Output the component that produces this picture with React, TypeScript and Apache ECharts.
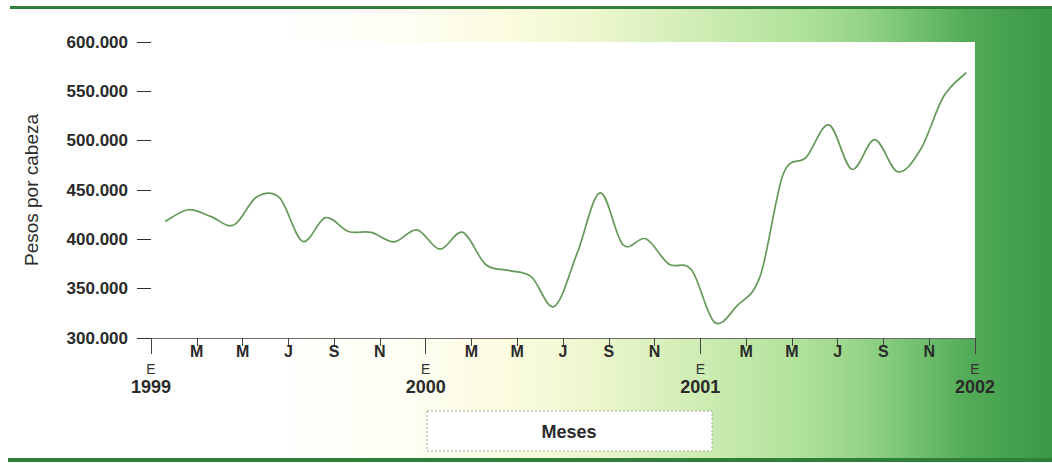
import React, { useEffect, useRef } from "react";
import * as echarts from "echarts";

// Monthly average price per head (pesos), Jan 1999 .. Dec 2001
const monthIndex = [
  0, 1, 2, 3, 4, 5, 6, 7, 8, 9, 10, 11,
  12, 13, 14, 15, 16, 17, 18, 19, 20, 21, 22, 23,
  24, 25, 26, 27, 28, 29, 30, 31, 32, 33, 34, 35,
];
const pesosPorCabeza = [
  418000, 430000, 423000, 414500, 443000, 442000, 398000, 422000, 408000, 407000, 397500, 409500,
  390000, 407000, 374500, 368500, 362000, 332000, 386000, 447000, 394500, 400500, 375000, 369000,
  316000, 333000, 363000, 466000, 483000, 516000, 471000, 501000, 468500, 491000, 544500, 569000,
];
const monthTickLetters = ["E", "M", "M", "J", "S", "N"];
const yearLabels = ["1999", "2000", "2001", "2002"];
const yTicks = { min: 300000, max: 600000, step: 50000 };
const pointOffset = 0.62; // points sit inside each month

const FONT = "'Liberation Sans', Arial, Helvetica, sans-serif";

function fmtThousands(v: number): string {
  const s = Math.round(v).toString();
  return s.replace(/\B(?=(\d{3})+(?!\d))/g, ".");
}

// Catmull-Rom spline through pixel points -> SVG path data
function splinePath(pts: number[][]): string {
  const n = pts.length;
  if (n === 0) return "";
  let d = "M" + pts[0][0] + "," + pts[0][1];
  for (let i = 0; i < n - 1; i++) {
    const p0 = pts[Math.max(0, i - 1)];
    const p1 = pts[i];
    const p2 = pts[i + 1];
    const p3 = pts[Math.min(n - 1, i + 2)];
    const c1x = p1[0] + (p2[0] - p0[0]) / 6;
    const c1y = p1[1] + (p2[1] - p0[1]) / 6;
    const c2x = p2[0] - (p3[0] - p1[0]) / 6;
    const c2y = p2[1] - (p3[1] - p1[1]) / 6;
    d += " C" + c1x + "," + c1y + " " + c2x + "," + c2y + " " + p2[0] + "," + p2[1];
  }
  return d;
}

export default function App() {
  const ref = useRef<HTMLDivElement>(null);

  useEffect(() => {
    if (!ref.current) return;
    const chart = echarts.init(ref.current, null, { renderer: "svg" });

    const seriesData = monthIndex.map((m, i) => [m + pointOffset, pesosPorCabeza[i]]);

    const bgGradient = new echarts.graphic.LinearGradient(0, 0, 1, 0, [
      { offset: 0, color: "#ffffff" },
      { offset: 0.25, color: "#ffffff" },
      { offset: 0.38, color: "#fefef4" },
      { offset: 0.48, color: "#fbfbe0" },
      { offset: 0.56, color: "#eef7cf" },
      { offset: 0.67, color: "#cdecb2" },
      { offset: 0.76, color: "#b0e29a" },
      { offset: 0.82, color: "#95d487" },
      { offset: 0.88, color: "#6cbd6a" },
      { offset: 0.92, color: "#52ab57" },
      { offset: 1, color: "#3a9846" },
    ]);

    const option: any = {
      animation: false,
      grid: {
        left: 151,
        right: 77,
        top: 42,
        bottom: 125,
        show: true,
        backgroundColor: "#ffffff",
        borderWidth: 0,
        z: 1,
      },
      graphic: [
        {
          type: "rect",
          z: -100,
          shape: { x: 0, y: 9, width: 1052, height: 451 },
          style: { fill: bgGradient },
          silent: true,
        },
        {
          type: "rect",
          z: -90,
          shape: { x: 10, y: 6, width: 1042, height: 3 },
          style: { fill: "#2f7f3a" },
          silent: true,
        },
        {
          type: "rect",
          z: -90,
          shape: { x: 8, y: 458, width: 1044, height: 4 },
          style: { fill: "#2f7f3a" },
          silent: true,
        },
        {
          type: "rect",
          z: 5,
          shape: { x: 427, y: 411, width: 285, height: 40 },
          style: { fill: "#ffffff", stroke: "#a8a8a0", lineWidth: 1, lineDash: [2, 2] },
          silent: true,
        },
        {
          type: "text",
          z: 6,
          x: 569,
          y: 432,
          style: {
            text: "Meses",
            font: "bold 18px " + FONT,
            fill: "#2a2a2a",
            align: "center",
            verticalAlign: "middle",
          },
          silent: true,
        },
      ],
      xAxis: [
        {
          type: "value",
          position: "bottom",
          min: 0,
          max: 36,
          interval: 2,
          axisLine: { show: true, lineStyle: { color: "#6a6a6a", width: 1 } },
          axisTick: { show: true, length: 8, lineStyle: { color: "#444", width: 1 } },
          splitLine: { show: false },
          axisLabel: {
            show: true,
            margin: 5,
            showMinLabel: true,
            showMaxLabel: true,
            fontFamily: FONT,
            fontWeight: "bold",
            fontSize: 16,
            color: "#2a2a2a",
            formatter: (v: number) => {
              const k = Math.round(v / 2) % 6;
              return k === 0 ? "" : monthTickLetters[k];
            },
          },
        },
        {
          type: "value",
          position: "top",
          min: 0,
          max: 36,
          axisLine: { show: true, lineStyle: { color: "#6a6a6a", width: 1 } },
          axisTick: { show: false },
          splitLine: { show: false },
          axisLabel: { show: false },
        },
        {
          type: "value",
          position: "bottom",
          min: 0,
          max: 36,
          interval: 12,
          axisLine: { show: false },
          axisTick: { show: true, length: 16, lineStyle: { color: "#444", width: 1 } },
          splitLine: { show: false },
          axisLabel: {
            show: true,
            margin: 22,
            showMinLabel: true,
            showMaxLabel: true,
            formatter: (v: number) => "{e|E}\n{y|" + yearLabels[Math.round(v / 12)] + "}",
            rich: {
              e: { fontFamily: FONT, fontSize: 14, lineHeight: 17, color: "#333", fontWeight: "normal" },
              y: { fontFamily: FONT, fontSize: 18, lineHeight: 19, color: "#2a2a2a", fontWeight: "bold" },
            },
          },
        },
      ],
      yAxis: {
        type: "value",
        min: yTicks.min,
        max: yTicks.max,
        interval: yTicks.step,
        name: "Pesos por cabeza",
        nameLocation: "middle",
        nameRotate: 90,
        nameGap: 110,
        nameTextStyle: { fontFamily: FONT, fontSize: 19, color: "#2a2a2a" },
        axisLine: { show: true, lineStyle: { color: "#6a6a6a", width: 1 } },
        axisTick: { show: true, length: 14, lineStyle: { color: "#333", width: 1 } },
        splitLine: { show: false },
        axisLabel: {
          margin: 23,
          fontFamily: FONT,
          fontWeight: "bold",
          fontSize: 17,
          color: "#2a2a2a",
          formatter: (v: number) => fmtThousands(v),
        },
      },
      series: [
        {
          type: "custom",
          name: "Pesos por cabeza",
          xAxisIndex: 0,
          yAxisIndex: 0,
          data: seriesData,
          encode: { x: 0, y: 1 },
          clip: true,
          z: 3,
          renderItem: (params: any, api: any) => {
            if (params.dataIndex !== 0) return null;
            const pts = seriesData.map((d) => api.coord(d));
            return {
              type: "path",
              shape: { pathData: splinePath(pts) },
              style: { fill: "none", stroke: "#66985a", lineWidth: 1.7 },
            };
          },
        },
      ],
    };

    chart.setOption(option);
    return () => chart.dispose();
  }, []);

  return (
    <div
      ref={ref}
      style={{ position: "absolute", left: 0, top: 0, width: 1052, height: 463 }}
    />
  );
}
